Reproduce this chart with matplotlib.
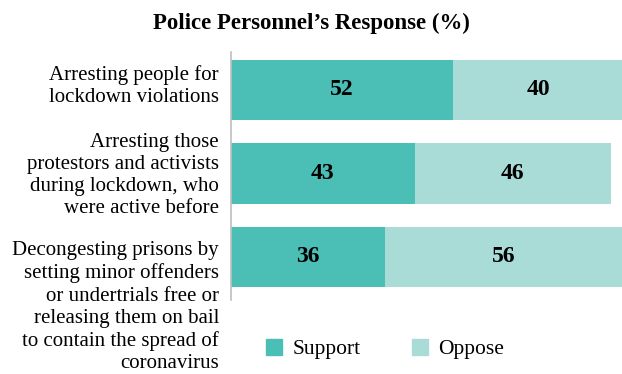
import matplotlib
matplotlib.use("Agg")
import matplotlib.pyplot as plt
from matplotlib.patches import Patch
from matplotlib.transforms import blended_transform_factory

# data
categories = [
    "Arresting people for\nlockdown violations",
    "Arresting those\nprotestors and activists\nduring lockdown, who\nwere active before",
    "Decongesting prisons by\nsetting minor offenders\nor undertrials free or\nreleasing them on bail\nto contain the spread of\ncoronavirus",
]
support = [52, 43, 36]
oppose = [40, 46, 56]

support_color = "#4bbfb5"
oppose_color = "#a9dcd7"

plt.rcParams["font.family"] = "Liberation Serif"

fig = plt.figure(figsize=(6.22, 3.74), dpi=100)
ax = fig.add_axes([231 / 622, 1 - 300 / 374, 391 / 622, 248 / 374])

y = list(range(len(categories)))
ax.barh(y, support, height=0.72, color=support_color)
ax.barh(y, oppose, left=support, height=0.72, color=oppose_color)

# value labels in the middle of each segment
for i in y:
    ax.text(support[i] / 2, i, str(support[i]), ha="center", va="center",
            fontsize=17, fontweight="bold")
    ax.text(support[i] + oppose[i] / 2, i, str(oppose[i]), ha="center", va="center",
            fontsize=17, fontweight="bold")

ax.set_xlim(0, 91.6)
ax.set_ylim(2.515, -0.455)

# category labels, right aligned left of the axis
trans = blended_transform_factory(fig.transFigure, ax.transData)
label_y = [-0.05, 0.02, 0.6]
for i, lab in enumerate(categories):
    ax.text(219 / 622, i + label_y[i], lab, transform=trans, ha="right", va="center",
            fontsize=15, linespacing=1.22)

ax.set_xticks([])
ax.set_yticks([])
for s in ["top", "right", "bottom"]:
    ax.spines[s].set_visible(False)
ax.spines["left"].set_color("#bfbfbf")
ax.spines["left"].set_linewidth(1.2)

fig.text(0.5, 1 - 23 / 374, "Police Personnel\u2019s Response (%)", ha="center", va="center",
         fontsize=16.5, fontweight="bold")

handles = [Patch(color=support_color, label="Support"),
           Patch(color=oppose_color, label="Oppose")]
fig.legend(handles=handles, loc="center", bbox_to_anchor=(385 / 622, 1 - 349 / 374),
           ncol=2, frameon=False, fontsize=15.5, handlelength=0.75, handleheight=0.75,
           columnspacing=2.4, handletextpad=0.47, borderpad=0)

fig.savefig("out.png", dpi=100)
